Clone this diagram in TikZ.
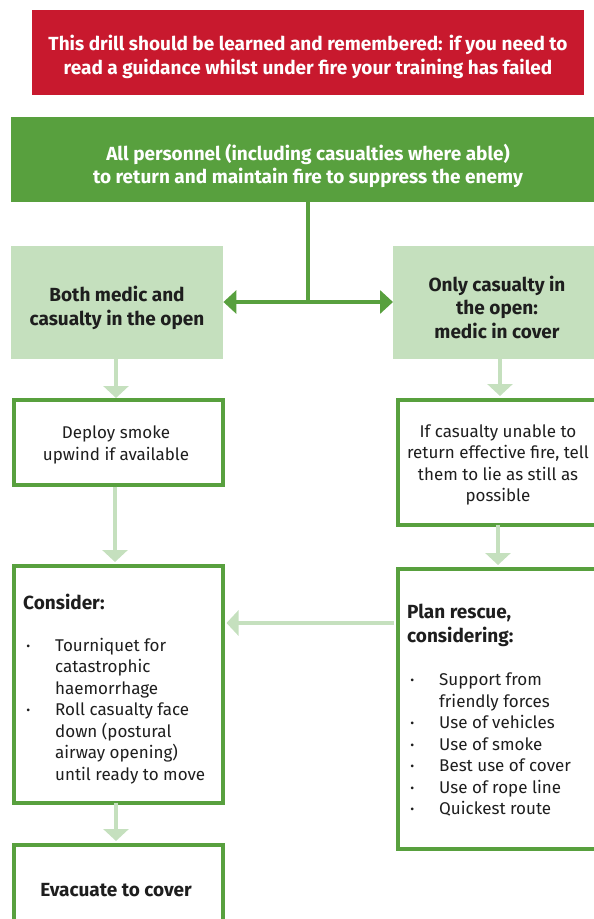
\documentclass[tikz,border=0pt]{standalone}
\usepackage{fontspec}
\setmainfont{Fira Sans}
\usetikzlibrary{arrows.meta}
\definecolor{alertred}{RGB}{200,25,46}
\definecolor{drillgreen}{RGB}{88,160,62}
\definecolor{palegreen}{RGB}{197,224,190}
\definecolor{inktext}{RGB}{30,30,30}
\tikzset{
  x=1pt, y=-1pt,
  banner/.style={fill=#1, draw=none, inner sep=0pt, anchor=north west},
  framebox/.style={draw=drillgreen, line width=3.5pt, fill=white, inner sep=0pt, anchor=north west},
  paletile/.style={fill=palegreen, draw=none, inner sep=0pt, anchor=north west},
  whitebold/.style={text=white, font=\fontseries{sb}\selectfont\fontsize{19}{23.5}\selectfont, align=center, inner sep=0pt},
  darkbold/.style={text=inktext, font=\fontseries{sb}\selectfont\fontsize{19}{23.5}\selectfont, align=center, inner sep=0pt},
  bodytext/.style={text=inktext, font=\fontsize{17}{21.5}\selectfont, align=center, inner sep=0pt},
  listtext/.style={text=inktext, font=\fontsize{17}{21.5}\selectfont, align=left, inner sep=0pt, anchor=north west},
  paleflow/.style={draw=palegreen, line width=4pt, -{Triangle[length=12pt,width=25pt]}},
  mainflow/.style={draw=drillgreen, line width=3.5pt, -{Triangle[length=13pt,width=23pt]}},
}
\newcommand{\blt}{\llap{\raisebox{1pt}{\fontsize{12}{12}\selectfont•}\hspace{25pt}}}
\begin{document}
\begin{tikzpicture}
\useasboundingbox (0,0) rectangle (594,919);
\clip (0,0) rectangle (594,919);
% boxes
\node[banner=alertred, minimum width=552pt, minimum height=85pt] (warn) at (32,10) {};
\node[banner=drillgreen, minimum width=600pt, minimum height=85pt] (fire) at (11,117) {};
\node[paletile, minimum width=212pt, minimum height=113pt] (both) at (11,246) {};
\node[paletile, minimum width=220pt, minimum height=113pt] (only) at (393,246) {};
\node[framebox, minimum width=209pt, minimum height=85pt] (smoke) at (12,398) {};
\node[framebox, minimum width=215pt, minimum height=125pt] (still) at (396,398) {};
\node[framebox, minimum width=209pt, minimum height=237pt] (consider) at (12,564) {};
\node[framebox, minimum width=215pt, minimum height=280pt] (plan) at (396,567) {};
\node[framebox, minimum width=209pt, minimum height=90pt] (evac) at (12,843) {};
% texts
\node[whitebold] (warntext) at (308,57) {This drill should be learned and remembered: if you need to\\read a guidance whilst under fire your training has failed};
\node[whitebold] (firetext) at (308,166) {All personnel (including casualties where able)\\to return and maintain fire to suppress the enemy};
\node[darkbold] (bothtext) at (117,308) {Both medic and\\casualty in the open};
\node[darkbold] (onlytext) at (497,307) {Only casualty in\\the open:\\medic in cover};
\node[bodytext] (smoketext) at (116,445) {Deploy smoke\\upwind if available};
\node[bodytext] (stilltext) at (498,465) {If casualty unable to\\return effective fire, tell\\them to lie as still as\\possible};
\node[darkbold, anchor=west] (considertext) at (23,602) {Consider:};
\node[listtext] (considerlist) at (55,638) {\blt Tourniquet for\\catastrophic\\haemorrhage\\\blt Roll casualty face\\down (postural\\airway opening)\\until ready to move};
\node[darkbold, align=left, anchor=north west] (plantext) at (407,604) {Plan rescue,\\considering:};
\node[listtext] (planlist) at (439,673) {\blt Support from\\friendly forces\\\blt Use of vehicles\\\blt Use of smoke\\\blt Best use of cover\\\blt Use of rope line\\\blt Quickest route};
\node[darkbold] (evactext) at (116,890) {Evacuate to cover};
% connectors
\coordinate (split) at (308,302);
\draw[drillgreen, line width=3.5pt] (fire.south -| split) -- (split);
\draw[mainflow] (split) -- (both.east |- split);
\draw[mainflow] (split) -- (only.west |- split);
\draw[paleflow] (both.south -| 116,0) -- (smoke.north -| 116,0);
\draw[paleflow] (smoke.south -| 115,0) -- ([yshift=2pt]consider.north -| 115,0);
\draw[paleflow] (only.south -| 500,0) -- ([yshift=2pt]still.north -| 500,0);
\draw[paleflow] ([yshift=2pt]still.south -| 498,0) -- ([yshift=2pt]plan.north -| 498,0);
\draw[paleflow] ([xshift=-2pt]plan.west |- 0,623) -- ([xshift=2pt]consider.east |- 0,623);
\draw[paleflow] ([yshift=2pt]consider.south -| 116,0) -- ([yshift=2pt]evac.north -| 116,0);
\end{tikzpicture}
\end{document}
